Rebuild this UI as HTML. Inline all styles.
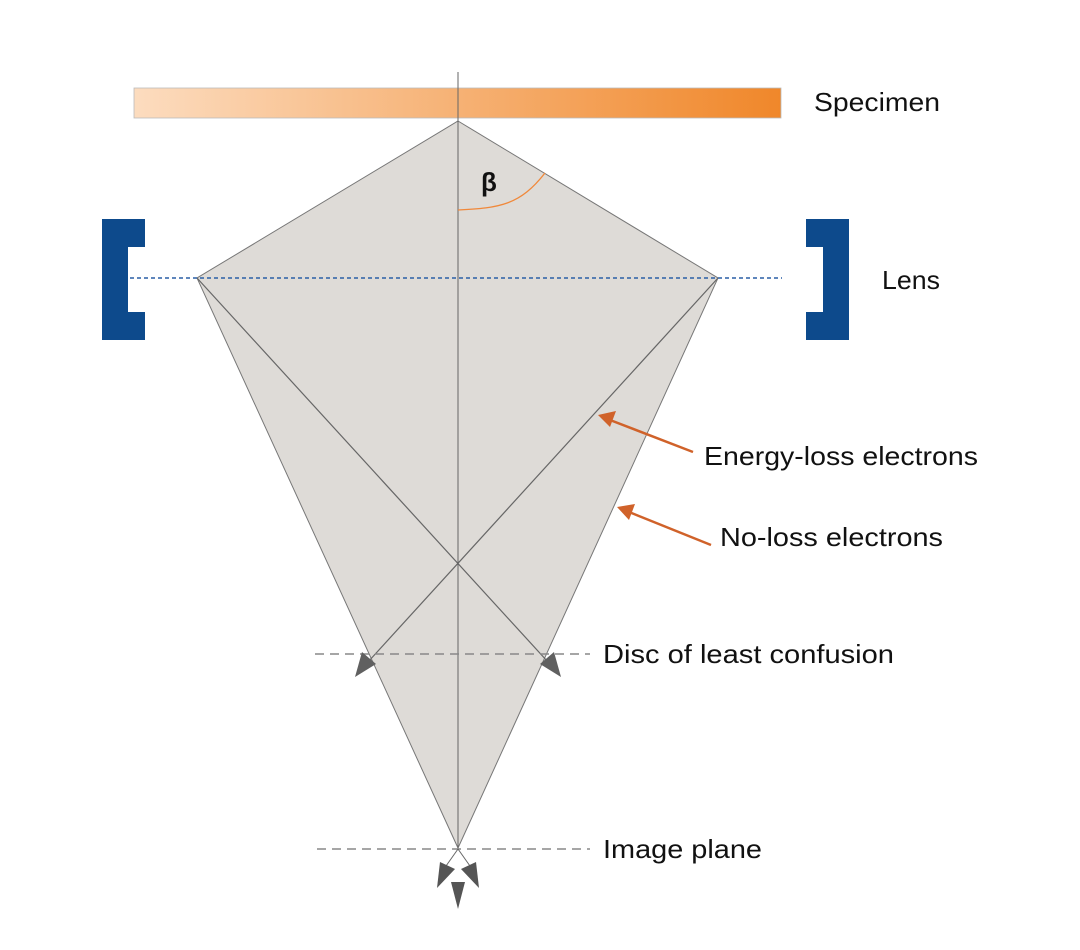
<!DOCTYPE html>
<html><head><style>
body{margin:0;background:#fff;}
svg{display:block;}
text{font-family:"Liberation Sans",sans-serif;font-size:26px;fill:#111;}
</style></head><body>
<svg width="1080" height="950" viewBox="0 0 1080 950">
<defs>
<linearGradient id="g" x1="0" x2="1" y1="0" y2="0">
<stop offset="0" stop-color="#fcdcbf"/><stop offset="1" stop-color="#f0872a"/>
</linearGradient>
</defs>
<rect x="134" y="88" width="647" height="30" fill="url(#g)" stroke="#bbb" stroke-width="0.8"/>
<polygon points="458,121 718,278 458,848 197,278" fill="#dedbd7" stroke="#777" stroke-width="1"/>
<line x1="458" y1="72" x2="458" y2="849" stroke="#666" stroke-width="1"/>
<line x1="197" y1="278" x2="548" y2="662" stroke="#666" stroke-width="1.2"/>
<line x1="718" y1="278" x2="368" y2="662" stroke="#666" stroke-width="1.2"/>
<line x1="130" y1="278" x2="782" y2="278" stroke="#2a5fa5" stroke-width="1.5" stroke-dasharray="4,3"/>
<path d="M102,219 H145 V247 H128 V312 H145 V340 H102 Z" fill="#0d4a8c"/>
<path d="M849,219 H806 V247 H823 V312 H806 V340 H849 Z" fill="#0d4a8c"/>
<line x1="315" y1="654" x2="590" y2="654" stroke="#888" stroke-width="1.5" stroke-dasharray="9,6"/>
<line x1="317" y1="849" x2="590" y2="849" stroke="#888" stroke-width="1.5" stroke-dasharray="9,6"/>
<polygon points="355,677 362,652 376,664" fill="#606060"/>
<polygon points="561,677 540,664 554,652" fill="#606060"/>
<line x1="458" y1="849" x2="446" y2="866" stroke="#666" stroke-width="1"/>
<line x1="458" y1="849" x2="470" y2="866" stroke="#666" stroke-width="1"/>
<polygon points="437,888 440,862 455,869" fill="#555"/>
<polygon points="479,888 461,869 476,862" fill="#555"/>
<polygon points="458,909 451,882 465,882" fill="#555"/>
<path d="M458,210 C500,208 520,205 545,173" fill="none" stroke="#f0883a" stroke-width="1.3"/>
<text x="481" y="191" style="font-weight:bold;font-size:26px">β</text>
<line x1="693" y1="452" x2="610" y2="420" stroke="#d0622a" stroke-width="2.5"/>
<polygon points="598,415 616,411 610,427" fill="#d0622a"/>
<line x1="711" y1="545" x2="629" y2="512" stroke="#d0622a" stroke-width="2.5"/>
<polygon points="617,507 635,504 629,520" fill="#d0622a"/>
<text x="814" y="111" textLength="126" lengthAdjust="spacingAndGlyphs">Specimen</text>
<text x="882" y="289" textLength="58" lengthAdjust="spacingAndGlyphs">Lens</text>
<text x="704" y="465" textLength="274" lengthAdjust="spacingAndGlyphs">Energy-loss electrons</text>
<text x="720" y="546" textLength="223" lengthAdjust="spacingAndGlyphs">No-loss electrons</text>
<text x="603" y="663" textLength="291" lengthAdjust="spacingAndGlyphs">Disc of least confusion</text>
<text x="603" y="858" textLength="159" lengthAdjust="spacingAndGlyphs">Image plane</text>
</svg>
</body></html>
